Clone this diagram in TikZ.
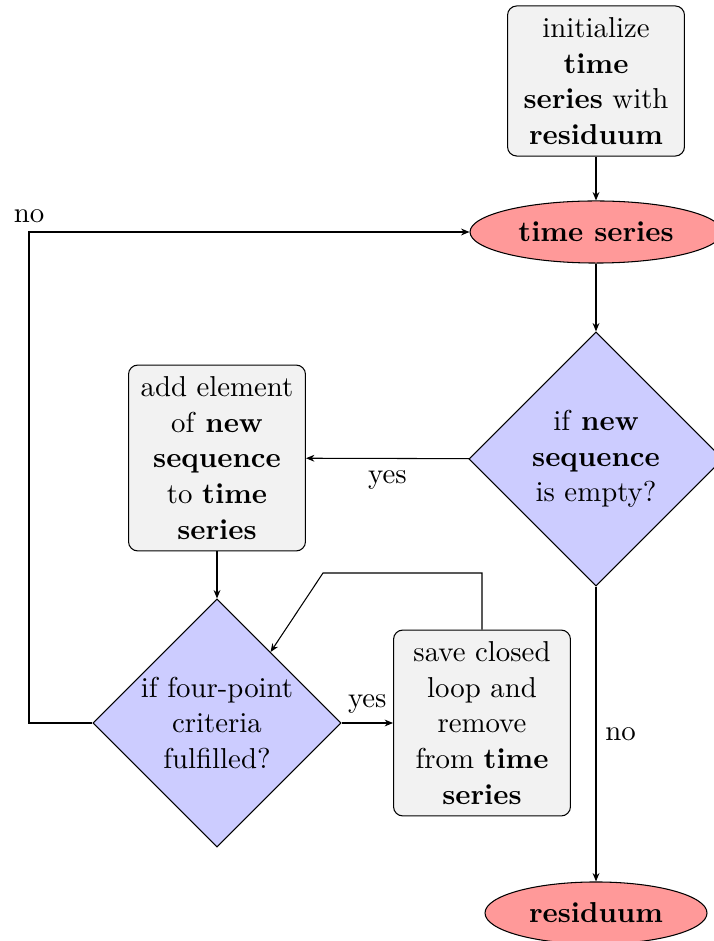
\documentclass[tikz,border=0pt]{standalone}
\usetikzlibrary{shapes.geometric,arrows.meta,calc}
\begin{document}
\begin{tikzpicture}[x=0.3802pt,y=-0.3802pt,
  every node/.style={font=\fontsize{10.95}{13.6}\selectfont},
  >={Stealth[length=3.2pt,width=2.6pt]},
  procbox/.style={draw,rounded corners=3.5pt,fill=black!5,text width=60.6pt,
    align=center,inner xsep=3.33pt,inner ysep=4.3pt},
  termnode/.style={draw,ellipse,fill=red!40,inner sep=0pt},
  decide/.style={draw,diamond,fill=blue!20,inner sep=0pt,align=center,aspect=1}]
  \useasboundingbox (0,0) rectangle (713,941);

  % nodes of the flow
  \node[procbox] (init) at (596,81)
    {initialize\\\textbf{time}\\\textbf{series} with\\\textbf{residuum}};
  \node[termnode,minimum width=95.8pt,minimum height=23.6pt] (ts) at (596,232)
    {\textbf{time series}};
  \node[decide,minimum width=96.6pt,minimum height=96.6pt] (empty) at (596,459)
    {if \textbf{new}\\\textbf{sequence}\\is empty?};
  \node[procbox] (add) at (217,458)
    {add element\\of \textbf{new}\\\textbf{sequence}\\to \textbf{time}\\\textbf{series}};
  \node[decide,minimum width=94.3pt,minimum height=94.3pt] (crit) at (217,723)
    {if four-point\\criteria\\fulfilled?};
  \node[procbox] (save) at (482,723)
    {save closed\\loop and\\remove\\from \textbf{time}\\\textbf{series}};
  \node[termnode,minimum width=84.4pt,minimum height=23.6pt] (res) at (596,913)
    {\textbf{residuum}};

  % helper points for the routed connectors
  \coordinate (loopL) at (323,573);
  \coordinate (back) at (29,723);

  % connectors
  \draw[->] (init) -- (ts);
  \draw[->] (ts) -- (empty);
  \draw[->] (empty) -- node[below,yshift=-1pt]{yes} (add);
  \draw[->] (add) -- (crit);
  \draw[->] (crit) -- node[above]{yes} (save);
  \draw[->] (save.north) |- (loopL) -- ($(crit.north)!0.43!(crit.east)$);
  \draw[->] (crit.west) -- (back) |- node[above]{no} (ts.west);
  \draw[->] (empty) -- node[right]{no} (res);
\end{tikzpicture}
\end{document}
